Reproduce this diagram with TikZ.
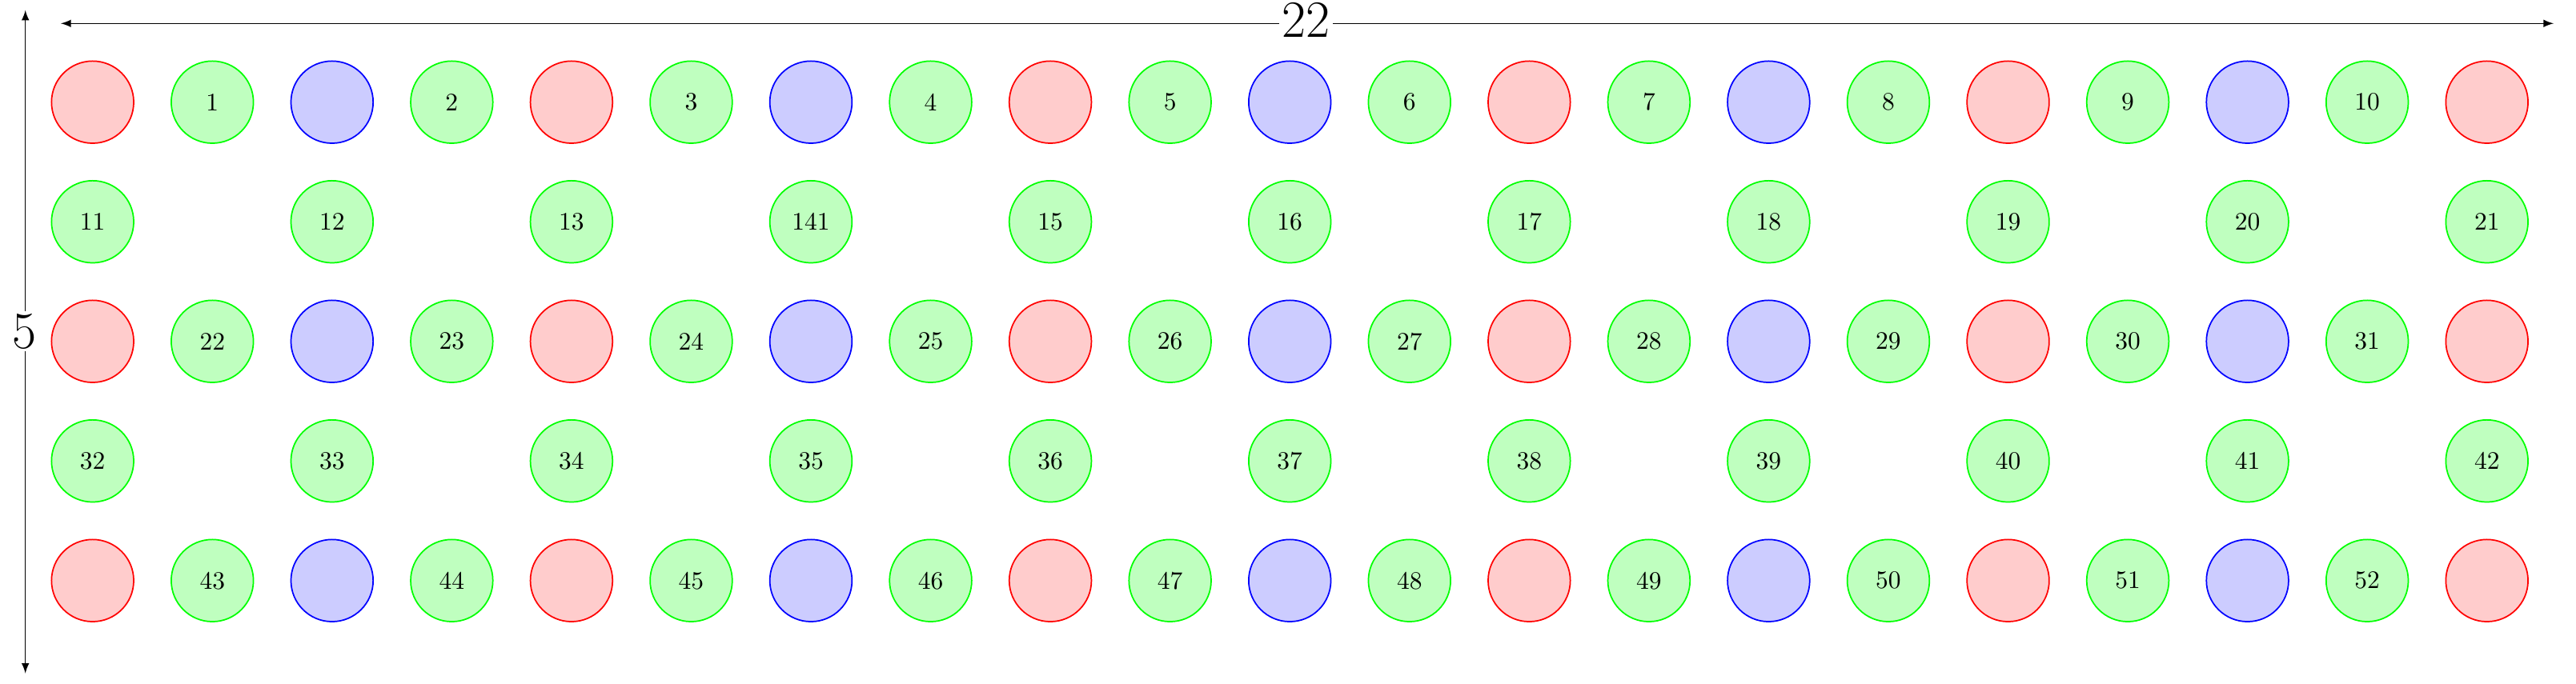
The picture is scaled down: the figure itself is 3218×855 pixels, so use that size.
\documentclass[tikz,border=0pt]{standalone}
\usetikzlibrary{arrows}
\begin{document}
\begin{tikzpicture}[x=0.3175pt,y=-0.3175pt,
  disc/.style={circle, minimum size=32.6pt, inner sep=0pt, line width=0.55pt},
  rdisc/.style={disc, draw=red, fill=red!20},
  gdisc/.style={disc, draw=green, fill=green!25},
  bdisc/.style={disc, draw=blue, fill=blue!20},
  dimline/.style={latex-latex, line width=0.4pt},
  dimlabel/.style={fill=white, inner sep=1pt, font=\huge}]
\useasboundingbox (0,0) rectangle (3218,855);
% rows with red/blue/numbered circles
\foreach \j/\base in {0/0,2/21,4/42}{
  \foreach \i in {0,...,20}{
    \pgfmathsetmacro{\x}{115.7+149.55*\i}
    \pgfmathsetmacro{\y}{127.7+149.5*\j}
    \ifodd\i
      \pgfmathtruncatemacro{\n}{\base+(\i+1)/2}
      \node[gdisc] (c-\j-\i) at (\x,\y) {\n};
    \else
      \pgfmathtruncatemacro{\m}{mod(\i,4)}
      \ifnum\m=0
        \node[rdisc] (c-\j-\i) at (\x,\y) {};
      \else
        \node[bdisc] (c-\j-\i) at (\x,\y) {};
      \fi
    \fi
  }
}
% rows with numbered circles only
\foreach \j/\base in {1/11,3/32}{
  \foreach \i in {0,2,...,20}{
    \pgfmathsetmacro{\x}{115.7+149.55*\i}
    \pgfmathsetmacro{\y}{127.7+149.5*\j}
    \pgfmathtruncatemacro{\n}{\base+\i/2}
    \ifnum\n=14 \def\n{141}\fi
    \node[gdisc] (c-\j-\i) at (\x,\y) {\n};
  }
}
% dimension arrows
\coordinate (tl) at (76,29.3);
\coordinate (tr) at (3190,29.3);
\coordinate (lt) at (31.7,12.7);
\coordinate (lb) at (31.7,841.7);
\draw[dimline] (tl) -- (tr);
\node[dimlabel] (w) at (1631.5,25.4) {22};
\draw[dimline] (lt) -- (lb);
\node[dimlabel] (h) at (30.7,414) {5};
\end{tikzpicture}
\end{document}
